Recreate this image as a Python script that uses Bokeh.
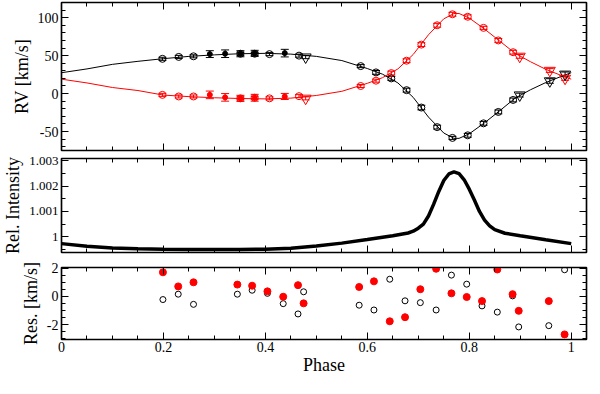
from bokeh.plotting import figure
from bokeh.layouts import column
from bokeh.models import (ColumnDataSource, Whisker, TeeHead, LinearAxis,
                          SingleIntervalTicker, CustomJSTickFormatter, Range1d)
from bokeh.embed import file_html
from bokeh.resources import INLINE

# ---------------- data ----------------
# RV panel: open-circle measurements
open_phase = [0.198, 0.230, 0.259, 0.351, 0.379, 0.408, 0.466, 0.587, 0.617, 0.647,
              0.677, 0.706, 0.737, 0.767, 0.797, 0.828, 0.857, 0.886]
open_rv_black = [45.8, 48.3, 49.1, 52.5, 52.5, 52.0, 50.0, 36.2, 27.9, 20.0,
                 4.5, -18.4, -44.2, -58.4, -55.0, -39.2, -24.2, -8.4]
open_err_black = [2.0, 2.0, 2.0, 2.0, 2.0, 2.0, 2.0, 2.0, 2.5, 2.5,
                  2.5, 3.0, 2.5, 2.0, 2.5, 2.5, 2.5, 2.5]
open_rv_red = [-1.7, -3.8, -3.8, -6.3, -5.5, -6.3, -3.4, 10.0, 17.0, 27.0,
               43.3, 64.5, 90.0, 104.5, 101.2, 86.6, 70.0, 54.5]
open_err_red = [2.0, 2.0, 2.0, 2.0, 2.0, 2.0, 2.0, 2.0, 2.0, 2.5,
                2.5, 2.5, 2.5, 2.5, 2.5, 2.0, 2.5, 2.5]

# RV panel: filled-circle measurements
filled_phase = [0.291, 0.321, 0.351, 0.379, 0.438]
filled_rv_black = [52.0, 52.5, 52.5, 53.0, 53.3]
filled_err_black = [4.5, 5.0, 4.0, 4.0, 5.0]
filled_rv_red = [-1.7, -5.0, -6.3, -5.5, -3.8]
filled_err_red = [5.0, 5.0, 4.0, 4.5, 4.0]

# RV panel: triangle measurements
tri_phase = [0.479, 0.899, 0.958, 0.988]
tri_rv_black = [48.0, -2.0, 16.6, 25.4]
tri_err_black = [2.0, 2.5, 3.0, 3.0]
tri_rv_red = [-6.3, 49.0, 30.4, 20.0]
tri_err_red = [2.0, 2.5, 2.5, 2.5]

# RV panel: orbit model curves
curve_phase = [0.0, 0.05, 0.1, 0.15, 0.2, 0.25, 0.3, 0.35, 0.4, 0.45, 0.5, 0.55,
               0.6, 0.63, 0.66, 0.69, 0.72, 0.75, 0.77, 0.78, 0.8, 0.83, 0.86,
               0.89, 0.92, 0.95, 0.98, 1.0]
curve_black = [27.5, 32.5, 38.5, 42.5, 46.0, 49.0, 51.0, 52.5, 53.0, 52.0, 49.0, 43.5,
               33.0, 25.5, 14.0, -5.0, -31.0, -52.0, -59.0, -59.0, -53.0, -38.5, -22.5,
               -6.0, 5.0, 14.5, 22.5, 27.5]
curve_red = [19.0, 14.0, 8.0, 4.0, -2.0, -4.0, -5.5, -6.5, -7.0, -6.0, -2.5, 3.0,
             13.5, 21.0, 32.5, 51.5, 77.5, 98.5, 105.5, 105.5, 99.5, 85.0, 69.0,
             53.0, 42.0, 32.0, 24.0, 19.0]

# Relative intensity panel
int_phase = [0.0, 0.05, 0.1, 0.15, 0.2, 0.25, 0.3, 0.35, 0.4, 0.45, 0.5, 0.55, 0.6,
             0.65, 0.68, 0.69, 0.70, 0.71, 0.72, 0.73, 0.74, 0.75, 0.76, 0.77, 0.78,
             0.79, 0.80, 0.81, 0.82, 0.83, 0.84, 0.85, 0.87, 0.9, 0.95, 1.0]
int_value = [0.99973, 0.99963, 0.99956, 0.99953, 0.99951, 0.99950, 0.99950, 0.99950,
             0.99951, 0.99955, 0.99964, 0.99975, 0.99989, 1.00004, 1.00015, 1.00022,
             1.00034, 1.00050, 1.00082, 1.00128, 1.00178, 1.00222, 1.00248, 1.00256,
             1.00249, 1.00225, 1.00188, 1.00145, 1.00100, 1.00066, 1.00043, 1.00028,
             1.00014, 1.00004, 0.99988, 0.99973]

# Residual panel
res_phase = [0.199, 0.229, 0.259, 0.345, 0.374, 0.404, 0.435, 0.464, 0.475, 0.584,
             0.613, 0.644, 0.674, 0.704, 0.735, 0.765, 0.795, 0.825, 0.855, 0.885,
             0.897, 0.956, 0.987]
res_red = [1.71, 0.71, 1.0, 0.84, 0.76, 0.36, -0.02, 0.8, -0.49, 0.67,
           1.07, -1.76, -1.47, 0.51, 1.96, 0.22, -0.04, -0.33, 1.91, 0.16,
           -1.02, -0.33, -2.69]
res_black = [-0.22, 0.16, -0.56, 0.16, 0.44, 0.22, -0.51, -1.24, 0.33, -0.62,
             -0.96, 1.22, -0.31, -0.44, -0.96, 1.51, 0.87, -0.67, -1.11, 0.04,
             -2.16, -2.07, 1.89]

# ---------------- styling helpers ----------------
FONT = "Liberation Serif"
FMT = CustomJSTickFormatter(code="return String(Number(tick.toFixed(4)));")
BLANK = CustomJSTickFormatter(code="return '';")
RED = "#ff0000"


def setup_axis(ax, interval, nminor, labels, label_size="14px", standoff=3):
    ax.ticker = SingleIntervalTicker(interval=interval, num_minor_ticks=nminor)
    ax.major_tick_in = 7
    ax.major_tick_out = 0
    ax.minor_tick_in = 4
    ax.minor_tick_out = 0
    ax.axis_line_color = "black"
    ax.axis_line_width = 1.2
    ax.major_tick_line_color = "black"
    ax.minor_tick_line_color = "black"
    ax.major_tick_line_width = 1
    ax.minor_tick_line_width = 1
    if labels:
        ax.formatter = FMT
        ax.major_label_text_font = FONT
        ax.major_label_text_font_size = label_size
        ax.major_label_text_color = "black"
        ax.major_label_standoff = standoff
    else:
        ax.formatter = BLANK
        ax.major_label_text_font_size = "1px"
        ax.major_label_standoff = 0


def make_fig(height, yr, yint, ynminor, ylabel, xlabels, btop, bbottom,
             ylab_size="14px", ystand=3):
    p = figure(width=590, height=height, x_range=Range1d(0, 1.03),
               y_range=Range1d(*yr), output_backend="svg", toolbar_location=None,
               min_border_left=56, min_border_right=4,
               min_border_top=btop, min_border_bottom=bbottom)
    p.xgrid.visible = False
    p.ygrid.visible = False
    p.outline_line_color = "black"
    p.outline_line_width = 1.5
    p.background_fill_color = "white"
    p.border_fill_color = "white"
    p.add_layout(LinearAxis(), "above")
    p.add_layout(LinearAxis(), "right")
    setup_axis(p.below[0], 0.2, 4, xlabels)
    setup_axis(p.above[0], 0.2, 4, False)
    setup_axis(p.left[0], yint, ynminor, True, ylab_size, ystand)
    setup_axis(p.right[0], yint, ynminor, False)
    ya = p.left[0]
    ya.axis_label = ylabel
    ya.axis_label_text_font = FONT
    ya.axis_label_text_font_size = "18px"
    ya.axis_label_text_font_style = "normal"
    ya.axis_label_text_color = "black"
    ya.axis_label_standoff = 3
    return p


def add_points(p, xs, ys, errs, color, marker, size, filled):
    src = ColumnDataSource(dict(x=xs, y=ys,
                                lo=[y - e for y, e in zip(ys, errs)],
                                hi=[y + e for y, e in zip(ys, errs)]))
    w = Whisker(source=src, base="x", lower="lo", upper="hi",
                line_color=color, line_width=1,
                upper_head=TeeHead(size=8, line_color=color, line_width=1),
                lower_head=TeeHead(size=8, line_color=color, line_width=1))
    p.add_layout(w)
    p.scatter("x", "y", source=src, marker=marker, size=size,
              line_color=color, line_width=1,
              fill_color=color if filled else None)


# ---------------- top: RV panel ----------------
p1 = make_fig(154, (-75, 120), 50, 5, "RV [km/s]", False, 2, 4)
p1.line(curve_phase, curve_black, line_color="black", line_width=1)
p1.line(curve_phase, curve_red, line_color=RED, line_width=1)
add_points(p1, open_phase, open_rv_black, open_err_black, "black", "circle", 7, False)
add_points(p1, open_phase, open_rv_red, open_err_red, RED, "circle", 7, False)
add_points(p1, filled_phase, filled_rv_black, filled_err_black, "black", "circle", 5, True)
add_points(p1, filled_phase, filled_rv_red, filled_err_red, RED, "circle", 5, True)
add_points(p1, tri_phase, tri_rv_black, tri_err_black, "black", "inverted_triangle", 11, False)
add_points(p1, tri_phase, tri_rv_red, tri_err_red, RED, "inverted_triangle", 11, False)

# ---------------- middle: intensity panel ----------------
p2 = make_fig(104, (0.99938, 1.00309), 0.001, 2, "Rel. Intensity", False, 4, 6,
              ylab_size="13px", ystand=3)
p2.line(int_phase, int_value, line_color="black", line_width=3.5)

# ---------------- bottom: residuals ----------------
p3 = make_fig(120, (-3.05, 2.05), 2, 4, "Res. [km/s]", True, 9, 39)
bx = p3.below[0]
bx.axis_label = "Phase"
bx.axis_label_text_font = FONT
bx.axis_label_text_font_size = "18px"
bx.axis_label_text_font_style = "normal"
bx.axis_label_text_color = "black"
bx.axis_label_standoff = 0
bx.major_label_standoff = 2
p3.scatter(res_phase, res_black, marker="circle", size=6, line_color="black",
           fill_color=None, line_width=1)
p3.scatter(res_phase, res_red, marker="circle", size=7, line_color=RED,
           fill_color=RED)

layout = column(p1, p2, p3, spacing=0)
open("out.html", "w").write(file_html(layout, INLINE))
